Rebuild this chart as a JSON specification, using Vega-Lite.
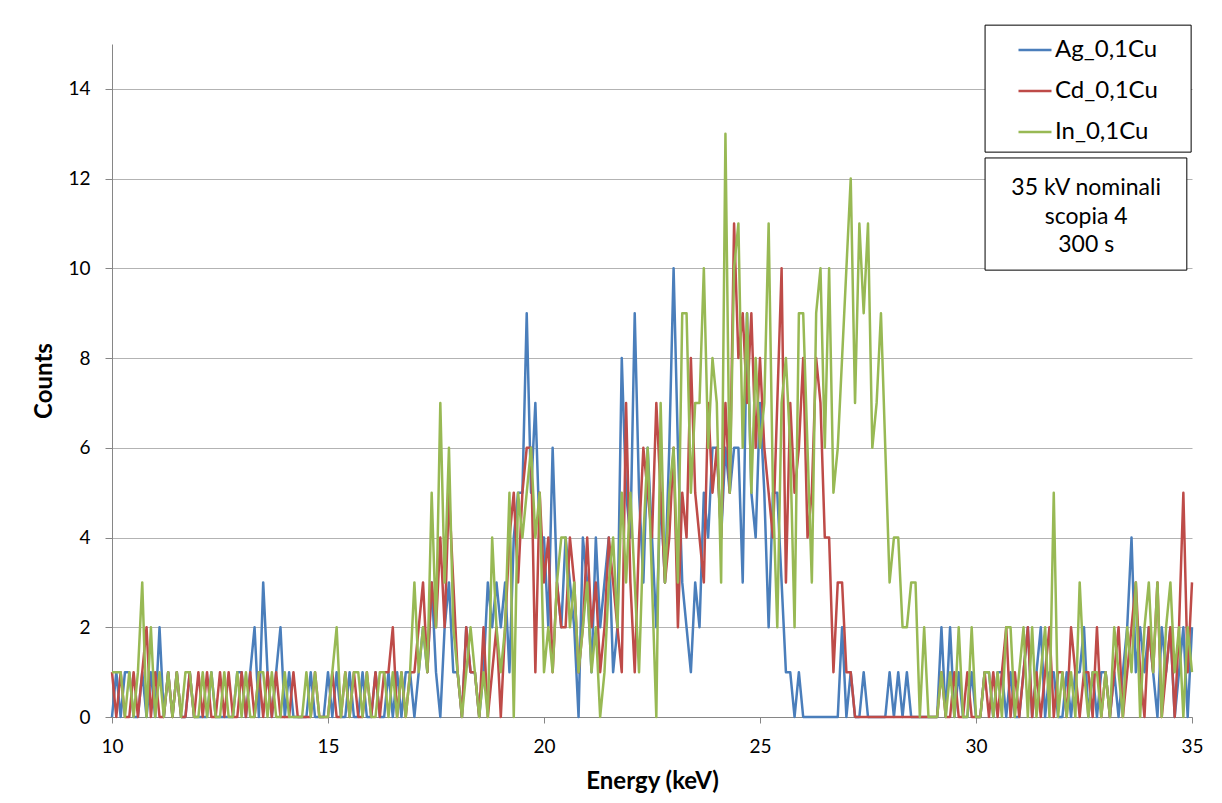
{
"$schema":"https://vega.github.io/schema/vega-lite/v6.json",
"width":1080,"height":673,
"autosize":{"type":"none"},
"padding":{"left":112,"top":44,"right":30,"bottom":86},
"background":"white",
"config":{"view":{"stroke":null},"font":"Lato"},
"data":{"values":[
{"e":10,"Ag":0,"Cd":1,"In":1},{"e":10.1,"Ag":1,"Cd":0,"In":1},{"e":10.2,"Ag":0,"Cd":1,"In":1},{"e":10.3,"Ag":1,"Cd":0,"In":0},{"e":10.4,"Ag":1,"Cd":0,"In":1},{"e":10.5,"Ag":0,"Cd":1,"In":0},{"e":10.6,"Ag":0,"Cd":0,"In":1},{"e":10.7,"Ag":1,"Cd":1,"In":3},{"e":10.8,"Ag":0,"Cd":2,"In":0},{"e":10.9,"Ag":1,"Cd":0,"In":2},
{"e":11,"Ag":0,"Cd":1,"In":0},{"e":11.1,"Ag":2,"Cd":0,"In":1},{"e":11.2,"Ag":0,"Cd":0,"In":0},{"e":11.3,"Ag":1,"Cd":1,"In":1},{"e":11.4,"Ag":0,"Cd":0,"In":0},{"e":11.5,"Ag":1,"Cd":1,"In":1},{"e":11.6,"Ag":0,"Cd":0,"In":0},{"e":11.7,"Ag":0,"Cd":0,"In":1},{"e":11.8,"Ag":1,"Cd":1,"In":1},{"e":11.9,"Ag":0,"Cd":0,"In":0},
{"e":12,"Ag":0,"Cd":1,"In":0},{"e":12.1,"Ag":0,"Cd":0,"In":1},{"e":12.2,"Ag":0,"Cd":1,"In":0},{"e":12.3,"Ag":1,"Cd":0,"In":1},{"e":12.4,"Ag":0,"Cd":0,"In":0},{"e":12.5,"Ag":0,"Cd":1,"In":0},{"e":12.6,"Ag":0,"Cd":0,"In":1},{"e":12.7,"Ag":0,"Cd":1,"In":0},{"e":12.8,"Ag":0,"Cd":0,"In":0},{"e":12.9,"Ag":1,"Cd":0,"In":1},
{"e":13,"Ag":1,"Cd":1,"In":0},{"e":13.1,"Ag":0,"Cd":0,"In":1},{"e":13.2,"Ag":1,"Cd":1,"In":0},{"e":13.3,"Ag":2,"Cd":0,"In":0},{"e":13.4,"Ag":0,"Cd":1,"In":1},{"e":13.5,"Ag":3,"Cd":0,"In":1},{"e":13.6,"Ag":1,"Cd":1,"In":0},{"e":13.7,"Ag":0,"Cd":0,"In":1},{"e":13.8,"Ag":1,"Cd":1,"In":0},{"e":13.9,"Ag":2,"Cd":0,"In":0},
{"e":14,"Ag":0,"Cd":0,"In":1},{"e":14.1,"Ag":1,"Cd":0,"In":0},{"e":14.2,"Ag":0,"Cd":1,"In":0},{"e":14.3,"Ag":0,"Cd":0,"In":0},{"e":14.4,"Ag":0,"Cd":0,"In":0},{"e":14.5,"Ag":0,"Cd":0,"In":1},{"e":14.6,"Ag":1,"Cd":0,"In":0},{"e":14.7,"Ag":0,"Cd":1,"In":1},{"e":14.8,"Ag":0,"Cd":0,"In":0},{"e":14.9,"Ag":0,"Cd":0,"In":0},
{"e":15,"Ag":1,"Cd":0,"In":0},{"e":15.1,"Ag":0,"Cd":1,"In":1},{"e":15.2,"Ag":1,"Cd":0,"In":2},{"e":15.3,"Ag":0,"Cd":0,"In":0},{"e":15.4,"Ag":0,"Cd":1,"In":1},{"e":15.5,"Ag":1,"Cd":0,"In":0},{"e":15.6,"Ag":0,"Cd":1,"In":1},{"e":15.7,"Ag":0,"Cd":0,"In":1},{"e":15.8,"Ag":1,"Cd":0,"In":0},{"e":15.9,"Ag":0,"Cd":1,"In":1},
{"e":16,"Ag":0,"Cd":0,"In":0},{"e":16.1,"Ag":1,"Cd":1,"In":0},{"e":16.2,"Ag":0,"Cd":0,"In":1},{"e":16.3,"Ag":0,"Cd":1,"In":1},{"e":16.4,"Ag":1,"Cd":1,"In":0},{"e":16.5,"Ag":0,"Cd":2,"In":1},{"e":16.6,"Ag":1,"Cd":0,"In":0},{"e":16.7,"Ag":0,"Cd":1,"In":1},{"e":16.8,"Ag":1,"Cd":0,"In":0},{"e":16.9,"Ag":1,"Cd":1,"In":1},
{"e":17,"Ag":0,"Cd":1,"In":3},{"e":17.1,"Ag":1,"Cd":2,"In":1},{"e":17.2,"Ag":2,"Cd":3,"In":2},{"e":17.3,"Ag":1,"Cd":1,"In":1},{"e":17.4,"Ag":3,"Cd":3,"In":5},{"e":17.5,"Ag":1,"Cd":2,"In":2},{"e":17.6,"Ag":0,"Cd":4,"In":7},{"e":17.7,"Ag":2,"Cd":2,"In":3},{"e":17.8,"Ag":3,"Cd":5,"In":6},{"e":17.9,"Ag":1,"Cd":3,"In":2},
{"e":18,"Ag":1,"Cd":1,"In":1},{"e":18.1,"Ag":0,"Cd":0,"In":0},{"e":18.2,"Ag":2,"Cd":2,"In":1},{"e":18.3,"Ag":1,"Cd":1,"In":2},{"e":18.4,"Ag":1,"Cd":1,"In":1},{"e":18.5,"Ag":0,"Cd":0,"In":0},{"e":18.6,"Ag":1,"Cd":2,"In":1},{"e":18.7,"Ag":3,"Cd":0,"In":0},{"e":18.8,"Ag":2,"Cd":1,"In":4},{"e":18.9,"Ag":3,"Cd":2,"In":2},
{"e":19,"Ag":2,"Cd":0,"In":1},{"e":19.1,"Ag":3,"Cd":2,"In":2},{"e":19.2,"Ag":1,"Cd":4,"In":5},{"e":19.3,"Ag":4,"Cd":5,"In":0},{"e":19.4,"Ag":5,"Cd":3,"In":5},{"e":19.5,"Ag":5,"Cd":5,"In":4},{"e":19.6,"Ag":9,"Cd":6,"In":5},{"e":19.7,"Ag":5,"Cd":6,"In":6},{"e":19.8,"Ag":7,"Cd":1,"In":4},{"e":19.9,"Ag":4,"Cd":5,"In":5},
{"e":20,"Ag":4,"Cd":3,"In":1},{"e":20.1,"Ag":2,"Cd":4,"In":2},{"e":20.2,"Ag":6,"Cd":1,"In":1},{"e":20.3,"Ag":3,"Cd":3,"In":3},{"e":20.4,"Ag":2,"Cd":2,"In":4},{"e":20.5,"Ag":4,"Cd":2,"In":4},{"e":20.6,"Ag":3,"Cd":4,"In":2},{"e":20.7,"Ag":2,"Cd":3,"In":3},{"e":20.8,"Ag":0,"Cd":1,"In":1},{"e":20.9,"Ag":4,"Cd":2,"In":2},
{"e":21,"Ag":3,"Cd":4,"In":3},{"e":21.1,"Ag":1,"Cd":2,"In":1},{"e":21.2,"Ag":4,"Cd":3,"In":2},{"e":21.3,"Ag":2,"Cd":1,"In":0},{"e":21.4,"Ag":3,"Cd":2,"In":1},{"e":21.5,"Ag":4,"Cd":4,"In":3},{"e":21.6,"Ag":1,"Cd":3,"In":4},{"e":21.7,"Ag":2,"Cd":2,"In":2},{"e":21.8,"Ag":8,"Cd":1,"In":5},{"e":21.9,"Ag":5,"Cd":7,"In":3},
{"e":22,"Ag":4,"Cd":3,"In":5},{"e":22.1,"Ag":9,"Cd":1,"In":3},{"e":22.2,"Ag":5,"Cd":4,"In":1},{"e":22.3,"Ag":3,"Cd":6,"In":4},{"e":22.4,"Ag":6,"Cd":5,"In":6},{"e":22.5,"Ag":4,"Cd":4,"In":3},{"e":22.6,"Ag":2,"Cd":7,"In":0},{"e":22.7,"Ag":5,"Cd":5,"In":7},{"e":22.8,"Ag":3,"Cd":3,"In":3},{"e":22.9,"Ag":6,"Cd":4,"In":5},
{"e":23,"Ag":10,"Cd":6,"In":6},{"e":23.1,"Ag":6,"Cd":2,"In":3},{"e":23.2,"Ag":3,"Cd":5,"In":9},{"e":23.3,"Ag":2,"Cd":4,"In":9},{"e":23.4,"Ag":1,"Cd":8,"In":5},{"e":23.5,"Ag":3,"Cd":5,"In":7},{"e":23.6,"Ag":2,"Cd":4,"In":7},{"e":23.7,"Ag":5,"Cd":3,"In":10},{"e":23.8,"Ag":4,"Cd":7,"In":6},{"e":23.9,"Ag":6,"Cd":5,"In":8},
{"e":24,"Ag":6,"Cd":6,"In":7},{"e":24.1,"Ag":4,"Cd":4,"In":3},{"e":24.2,"Ag":6,"Cd":7,"In":13},{"e":24.3,"Ag":5,"Cd":5,"In":5},{"e":24.4,"Ag":6,"Cd":11,"In":10},{"e":24.5,"Ag":6,"Cd":8,"In":11},{"e":24.6,"Ag":3,"Cd":9,"In":6},{"e":24.7,"Ag":9,"Cd":7,"In":9},{"e":24.8,"Ag":5,"Cd":9,"In":5},{"e":24.9,"Ag":4,"Cd":6,"In":8},
{"e":25,"Ag":7,"Cd":8,"In":6},{"e":25.1,"Ag":5,"Cd":6,"In":7},{"e":25.2,"Ag":2,"Cd":5,"In":11},{"e":25.3,"Ag":5,"Cd":4,"In":5},{"e":25.4,"Ag":5,"Cd":7,"In":2},{"e":25.5,"Ag":3,"Cd":10,"In":7},{"e":25.6,"Ag":1,"Cd":3,"In":8},{"e":25.7,"Ag":1,"Cd":7,"In":6},{"e":25.8,"Ag":0,"Cd":5,"In":2},{"e":25.9,"Ag":1,"Cd":6,"In":9},
{"e":26,"Ag":0,"Cd":8,"In":9},{"e":26.1,"Ag":0,"Cd":4,"In":6},{"e":26.2,"Ag":0,"Cd":5,"In":3},{"e":26.3,"Ag":0,"Cd":8,"In":9},{"e":26.4,"Ag":0,"Cd":7,"In":10},{"e":26.5,"Ag":0,"Cd":4,"In":6},{"e":26.6,"Ag":0,"Cd":4,"In":10},{"e":26.7,"Ag":0,"Cd":1,"In":5},{"e":26.8,"Ag":0,"Cd":3,"In":6},{"e":26.9,"Ag":2,"Cd":3,"In":8},
{"e":27,"Ag":0,"Cd":1,"In":10},{"e":27.1,"Ag":1,"Cd":1,"In":12},{"e":27.2,"Ag":0,"Cd":0,"In":7},{"e":27.3,"Ag":0,"Cd":0,"In":11},{"e":27.4,"Ag":1,"Cd":0,"In":9},{"e":27.5,"Ag":0,"Cd":0,"In":11},{"e":27.6,"Ag":0,"Cd":0,"In":6},{"e":27.7,"Ag":0,"Cd":0,"In":7},{"e":27.8,"Ag":0,"Cd":0,"In":9},{"e":27.9,"Ag":0,"Cd":0,"In":6},
{"e":28,"Ag":1,"Cd":0,"In":3},{"e":28.1,"Ag":0,"Cd":0,"In":4},{"e":28.2,"Ag":1,"Cd":0,"In":4},{"e":28.3,"Ag":0,"Cd":0,"In":2},{"e":28.4,"Ag":1,"Cd":0,"In":2},{"e":28.5,"Ag":0,"Cd":0,"In":3},{"e":28.6,"Ag":0,"Cd":0,"In":3},{"e":28.7,"Ag":0,"Cd":0,"In":0},{"e":28.8,"Ag":0,"Cd":0,"In":2},{"e":28.9,"Ag":0,"Cd":0,"In":0},
{"e":29,"Ag":0,"Cd":0,"In":0},{"e":29.1,"Ag":0,"Cd":0,"In":0},{"e":29.2,"Ag":2,"Cd":1,"In":1},{"e":29.3,"Ag":0,"Cd":0,"In":0},{"e":29.4,"Ag":2,"Cd":0,"In":1},{"e":29.5,"Ag":0,"Cd":1,"In":0},{"e":29.6,"Ag":1,"Cd":0,"In":2},{"e":29.7,"Ag":0,"Cd":0,"In":0},{"e":29.8,"Ag":0,"Cd":1,"In":0},{"e":29.9,"Ag":1,"Cd":0,"In":2},
{"e":30,"Ag":0,"Cd":0,"In":0},{"e":30.1,"Ag":0,"Cd":0,"In":0},{"e":30.2,"Ag":1,"Cd":1,"In":1},{"e":30.3,"Ag":1,"Cd":0,"In":1},{"e":30.4,"Ag":0,"Cd":1,"In":0},{"e":30.5,"Ag":1,"Cd":0,"In":1},{"e":30.6,"Ag":1,"Cd":1,"In":0},{"e":30.7,"Ag":0,"Cd":2,"In":2},{"e":30.8,"Ag":1,"Cd":0,"In":2},{"e":30.9,"Ag":0,"Cd":1,"In":0},
{"e":31,"Ag":0,"Cd":0,"In":1},{"e":31.1,"Ag":1,"Cd":1,"In":2},{"e":31.2,"Ag":2,"Cd":2,"In":0},{"e":31.3,"Ag":0,"Cd":0,"In":2},{"e":31.4,"Ag":1,"Cd":1,"In":0},{"e":31.5,"Ag":2,"Cd":0,"In":1},{"e":31.6,"Ag":0,"Cd":1,"In":2},{"e":31.7,"Ag":1,"Cd":2,"In":0},{"e":31.8,"Ag":1,"Cd":0,"In":5},{"e":31.9,"Ag":0,"Cd":1,"In":0},
{"e":32,"Ag":0,"Cd":1,"In":1},{"e":32.1,"Ag":1,"Cd":0,"In":0},{"e":32.2,"Ag":0,"Cd":2,"In":1},{"e":32.3,"Ag":1,"Cd":1,"In":0},{"e":32.4,"Ag":1,"Cd":0,"In":3},{"e":32.5,"Ag":2,"Cd":1,"In":1},{"e":32.6,"Ag":0,"Cd":1,"In":0},{"e":32.7,"Ag":1,"Cd":0,"In":1},{"e":32.8,"Ag":0,"Cd":2,"In":1},{"e":32.9,"Ag":1,"Cd":0,"In":0},
{"e":33,"Ag":1,"Cd":1,"In":1},{"e":33.1,"Ag":0,"Cd":0,"In":0},{"e":33.2,"Ag":1,"Cd":1,"In":2},{"e":33.3,"Ag":0,"Cd":2,"In":1},{"e":33.4,"Ag":1,"Cd":0,"In":0},{"e":33.5,"Ag":2,"Cd":1,"In":2},{"e":33.6,"Ag":4,"Cd":2,"In":1},{"e":33.7,"Ag":1,"Cd":3,"In":3},{"e":33.8,"Ag":2,"Cd":1,"In":0},{"e":33.9,"Ag":1,"Cd":0,"In":2},
{"e":34,"Ag":2,"Cd":2,"In":3},{"e":34.1,"Ag":1,"Cd":1,"In":1},{"e":34.2,"Ag":0,"Cd":3,"In":3},{"e":34.3,"Ag":2,"Cd":0,"In":0},{"e":34.4,"Ag":1,"Cd":1,"In":2},{"e":34.5,"Ag":2,"Cd":2,"In":3},{"e":34.6,"Ag":0,"Cd":0,"In":1},{"e":34.7,"Ag":1,"Cd":2,"In":2},{"e":34.8,"Ag":2,"Cd":5,"In":0},{"e":34.9,"Ag":0,"Cd":1,"In":2},
{"e":35,"Ag":2,"Cd":3,"In":1}
]},
"layer":[
{"transform":[{"fold":["Ag","Cd","In"],"as":["s","v"]}],
 "mark":{"type":"line","strokeWidth":2.5,"strokeJoin":"round"},
 "encoding":{
  "x":{"field":"e","type":"quantitative","scale":{"domain":[10,35],"nice":false,"zero":false},
   "axis":{"values":[10,15,20,25,30,35],"title":"Energy (keV)","grid":false,"domainColor":"#868686","tickColor":"#868686","tickSize":6,"labelFlush":false,"labelFont":"Lato","labelFontSize":19,"labelColor":"#000","labelPadding":14,"titleFont":"Lato","titleFontSize":24,"titleFontWeight":"bold","titleColor":"#000","titlePadding":13}},
  "y":{"field":"v","type":"quantitative","scale":{"domain":[0,15],"nice":false},
   "axis":{"values":[0,2,4,6,8,10,12,14],"title":"Counts","grid":true,"gridColor":"#b3b3b3","domainColor":"#868686","tickColor":"#868686","tickSize":7,"labelFlush":false,"labelFont":"Lato","labelFontSize":19,"labelColor":"#000","labelPadding":15,"titleFont":"Lato","titleFontSize":24,"titleFontWeight":"bold","titleColor":"#000","titlePadding":11}},
  "color":{"field":"s","type":"nominal","scale":{"domain":["Ag","Cd","In"],"range":["#4A7EBB","#BE4B48","#98B954"]},
   "legend":{"orient":"none","legendX":873,"legendY":-19,"title":null,"symbolType":"stroke","symbolSize":1089,"symbolStrokeWidth":2.5,"labelFont":"Lato","labelFontSize":24,"labelColor":"#000","labelOffset":2,"labelExpr":"datum.label + '_0,1Cu'","padding":7,"symbolOffset":25,"rowPadding":11}}
 }},
{"data":{"values":[{}]},
 "mark":{"type":"rect","fill":"white","stroke":"#000","strokeWidth":1},
 "encoding":{"x":{"datum":30.21,"type":"quantitative"},"x2":{"datum":34.98},"y":{"datum":12.59,"type":"quantitative"},"y2":{"datum":15.42}}},
{"data":{"values":[{}]},
 "mark":{"type":"rect","fill":"white","stroke":"#000","strokeWidth":1},
 "encoding":{"x":{"datum":30.21,"type":"quantitative"},"x2":{"datum":34.88},"y":{"datum":9.96,"type":"quantitative"},"y2":{"datum":12.46}}},
{"data":{"values":[{}]},
 "mark":{"type":"text","font":"Lato","fontSize":23,"lineHeight":28.5,"align":"center","baseline":"middle","color":"#000"},
 "encoding":{"x":{"datum":32.55,"type":"quantitative"},"y":{"datum":11.79,"type":"quantitative"},"text":{"value":["35 kV nominali","scopia 4","300 s"]}}}
]
}
